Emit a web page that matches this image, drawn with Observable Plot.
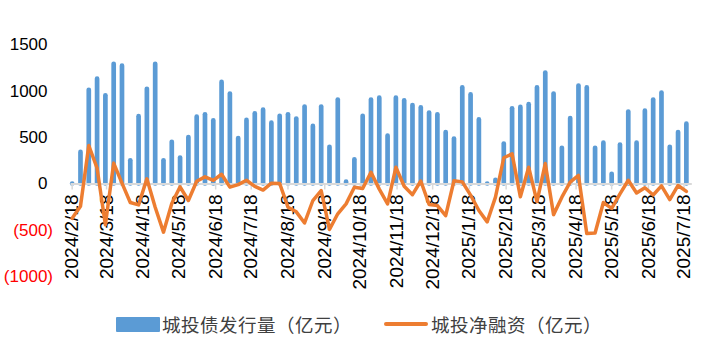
<!DOCTYPE html>
<html>
<head>
<meta charset="utf-8">
<script src="https://cdn.jsdelivr.net/npm/d3@7"></script>
<script src="https://cdn.jsdelivr.net/npm/@observablehq/plot@0.6"></script>
<style>
  html, body { margin: 0; padding: 0; background: #fff; }
  #chart { width: 709px; height: 300px; }
  #legend { position: relative; width: 709px; height: 55px; font-family: "Noto Sans CJK SC", sans-serif; font-size: 18.5px; letter-spacing: 0.5px; color: #404040; }
  .item { position: absolute; top: 0; height: 48px; display: flex; align-items: center; white-space: nowrap; }
  .swatch-bar { width: 44px; height: 15px; background: #5B9BD5; border-radius: 1px; margin-right: 2px; }
  .swatch-line { width: 44px; height: 3.5px; background: #ED7D31; border-radius: 2px; margin-right: 3px; }
</style>
</head>
<body>
<div id="chart"></div>
<div id="legend">
  <div class="item" style="left:116px; top:0px;"><div class="swatch-bar"></div><span>城投债发行量（亿元）</span></div>
  <div class="item" style="left:384px; top:0px;"><div class="swatch-line"></div><span>城投净融资（亿元）</span></div>
</div>
<script>
// Weekly categories: Sundays from 2024-02-18 to 2025-07-20
const weekStart = "2024-02-18";
const weekEnd = "2025-07-21";

// 城投债发行量（亿元）
const issuance = [
  0, 340, 1010, 1130, 950, 1290, 1270, 250, 725, 1020,
  1290, 250, 450, 280, 500, 720, 745, 680, 1095, 970,
  490, 685, 755, 795, 655, 730, 745, 700, 830, 620,
  830, 395, 905, 20, 260, 730, 905, 925, 515, 925,
  895, 845, 820, 765, 745, 555, 485, 1035, 960, 690,
  0, 40, 430, 810, 825, 855, 1035, 1195, 970, 385,
  705, 1055, 1035, 385, 440, 105, 420, 775, 440, 785,
  905, 980, 395, 555, 645
];

// 城投净融资（亿元）
const netFinancing = [
  -370, -240, 415, 170, -440, 225, 10, -200, -225, 56,
  -250, -519, -210, -30, -178, 30, 77, 38, 105, -34,
  -7, 40, -25, -65, 9, 5, -250, -300, -420, -178,
  -70, -490, -321, -214, -34, -48, 127, -55, -214, 180,
  -25, -115, 32, -220, -232, -340, 35, 23, -120, -286,
  -408, -142, 283, 325, -138, 181, -190, 220, -330, -142,
  20, 92, -533, -528, -200, -263, -106, 40, -97, -40,
  -118, -20, -168, -16, -80
];

// X tick labels (monthly)
const monthLabels = [
  "2024/2/18", "2024/3/18", "2024/4/18", "2024/5/18", "2024/6/18", "2024/7/18",
  "2024/8/18", "2024/9/18", "2024/10/18", "2024/11/18", "2024/12/18",
  "2025/1/18", "2025/2/18", "2025/3/18", "2025/4/18", "2025/5/18", "2025/6/18", "2025/7/18"
];

// Y ticks
const yTicksPos = [0, 500, 1000, 1500];
const yTicksNeg = [-500, -1000];

const weeks = d3.utcWeek.range(new Date(weekStart + "T00:00Z"), new Date(weekEnd + "T00:00Z"));
const data = weeks.map((d, i) => ({date: d, issuance: issuance[i], net: netFinancing[i]}));
const parseLabel = d3.utcParse("%Y/%m/%d");
const monthDates = monthLabels.map(s => parseLabel(s));

const tickSymbol = {
  draw(context) { context.moveTo(0, 0); context.lineTo(0, 5.5); }
};

const plot = Plot.plot({
  width: 709,
  height: 300,
  marginLeft: 70.5,
  marginRight: 17.2,
  marginTop: 44.3,
  marginBottom: 23.7,
  style: {fontFamily: "Liberation Sans, Arial, sans-serif", background: "#fff"},
  x: {type: "utc", domain: [new Date("2024-02-17T00:00Z"), new Date("2025-07-25T00:00Z")], axis: null},
  y: {domain: [-1000, 1500], axis: null},
  marks: [
    Plot.ruleX(data, {x: "date", y1: 0, y2: "issuance", stroke: "#5B9BD5", strokeWidth: 4.7, strokeLinecap: "round"}),
    Plot.ruleY([0], {stroke: "#D9D9D9", strokeWidth: 2}),
    Plot.dot(monthDates, {x: d => d, y: 0, symbol: tickSymbol, stroke: "#D9D9D9", strokeWidth: 1.5, fill: "none"}),
    Plot.text(monthDates, {x: d => d, y: 0, text: (d, i) => monthLabels[i], rotate: -90, textAnchor: "end", dy: 10.5, fontSize: 19, fill: "#000"}),
    Plot.text(yTicksPos, {y: d => d, text: d => d3.format("d")(d), frameAnchor: "left", textAnchor: "end", dx: -23.5, fontSize: 17, fill: "#000"}),
    Plot.text(yTicksNeg, {y: d => d, text: d => "(" + Math.abs(d) + ")", frameAnchor: "left", textAnchor: "end", dx: -18, fontSize: 17, fill: "#FF0000"}),
    Plot.line(data, {x: "date", y: "net", stroke: "#ED7D31", strokeWidth: 3.5, strokeLinejoin: "round", strokeLinecap: "round"})
  ]
});
document.getElementById("chart").appendChild(plot);
</script>
</body>
</html>
